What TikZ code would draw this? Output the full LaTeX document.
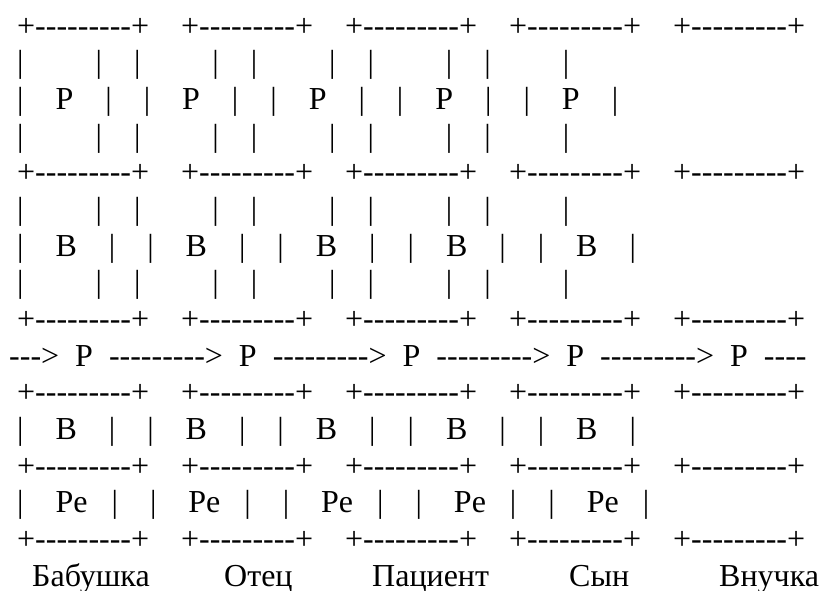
\documentclass[tikz,border=0pt]{standalone}
\usepackage{fontspec}
\newfontfamily\asciifont{Liberation Serif}[Ligatures=TeXOff]

% repeated rows of the chart
\newcommand{\edgerow}{~+---------+~~~~+---------+~~~~+---------+~~~~+---------+~~~~+---------+}
\newcommand{\siderow}{~|~~~~~~~~~|~~~~|~~~~~~~~~|~~~~|~~~~~~~~~|~~~~|~~~~~~~~~|~~~~|~~~~~~~~~|}
\newcommand{\markrow}[1]{~|~~~~#1~~~~|~~~~|~~~~#1~~~~|~~~~|~~~~#1~~~~|~~~~|~~~~#1~~~~|~~~~|~~~~#1~~~~|}

\begin{document}
\begin{tikzpicture}[
    x=1pt, y=-1pt,
    line/.style={anchor=base west, inner sep=0pt, font=\asciifont\fontsize{32}{36}\selectfont},
    who/.style={line}
]

\fill[white] (0,0) rectangle (819,590);
\useasboundingbox (0,0) rectangle (819,590);

% upper boxes: P over B
\node[line] (r1)  at (9,36.0)  {\edgerow};
\node[line] (r2)  at (9,72.7)  {\siderow};
\node[line] (r3)  at (9,109.3) {\markrow{P}};
\node[line] (r4)  at (9,146.0) {\siderow};
\node[line] (r5)  at (9,182.7) {\edgerow};
\node[line] (r6)  at (9,219.4) {\siderow};
\node[line] (r7)  at (9,256.0) {\markrow{B}};
\node[line] (r8)  at (9,292.7) {\siderow};
\node[line] (r9)  at (9,329.4) {\edgerow};

% chain of P
\node[line] (r10) at (9,366.0) {--->~~P~~--------->~~P~~--------->~~P~~--------->~~P~~--------->~~P~~----};

% lower boxes: B over Pe
\node[line] (r11) at (9,402.7) {\edgerow};
\node[line] (r12) at (9,439.4) {\markrow{B}};
\node[line] (r13) at (9,476.0) {\edgerow};
\node[line] (r14) at (9,512.7) {~|~~~~Pe~~~|~~~~|~~~~Pe~~~|~~~~|~~~~Pe~~~|~~~~|~~~~Pe~~~|~~~~|~~~~Pe~~~|};
\node[line] (r15) at (9,549.4) {\edgerow};

% generations
\node[who] (babushka) at (32,586)  {Бабушка};
\node[who] (otets)    at (224,586) {Отец};
\node[who] (patsient) at (372,586) {Пациент};
\node[who] (syn)      at (569,586) {Сын};
\node[who] (vnuchka)  at (719,586) {Внучка};

\end{tikzpicture}
\end{document}
